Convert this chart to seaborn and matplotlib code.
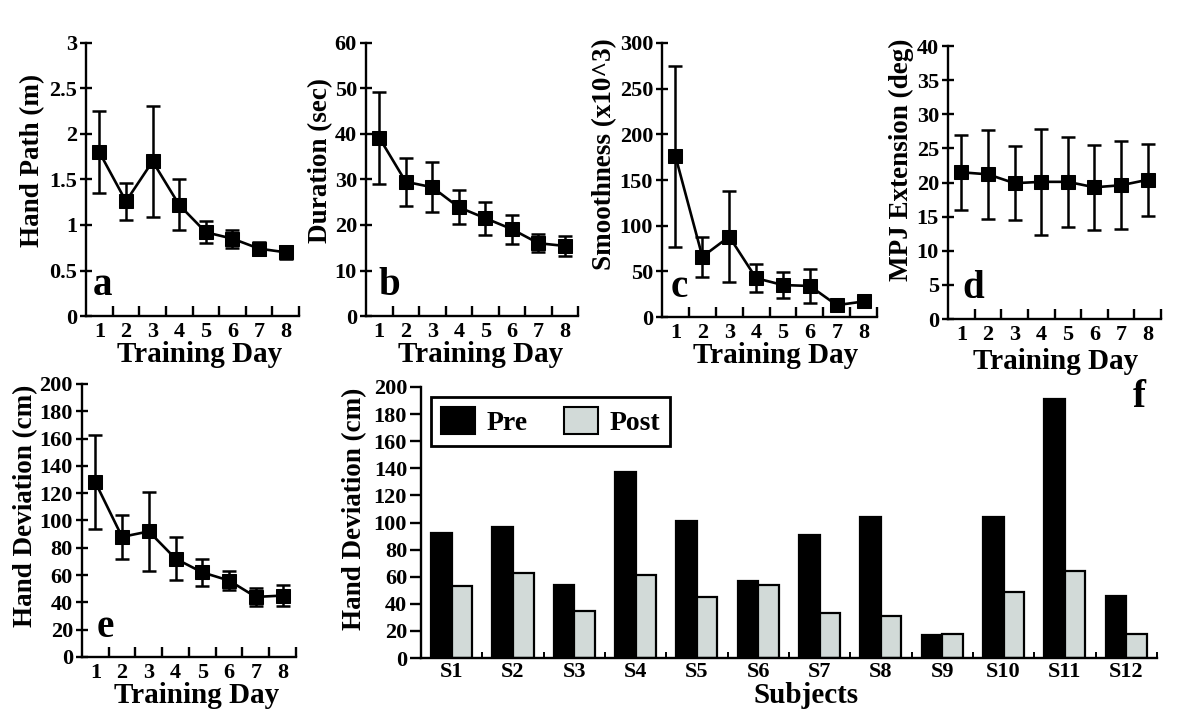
import numpy as np
import pandas as pd
import matplotlib
matplotlib.use('Agg')
import matplotlib.pyplot as plt
import seaborn as sns
from matplotlib.ticker import FormatStrFormatter

# training days (panels a-e)
days = [1, 2, 3, 4, 5, 6, 7, 8]

hand_path = [1.80, 1.26, 1.70, 1.22, 0.92, 0.85, 0.74, 0.70]
hand_path_sd = [0.45, 0.20, 0.61, 0.28, 0.12, 0.10, 0.075, 0.07]

duration = [39.2, 29.5, 28.3, 23.9, 21.5, 19.1, 16.0, 15.4]
duration_sd = [10.1, 5.3, 5.5, 3.7, 3.6, 3.2, 2.0, 2.2]

smoothness = [176, 66, 88, 42.5, 35, 34, 13, 17]
smoothness_sd = [99, 22, 50, 15, 14, 19, 3, 3]

mpj = [21.5, 21.2, 19.9, 20.1, 20.1, 19.3, 19.6, 20.4]
mpj_sd = [5.5, 6.5, 5.45, 7.8, 6.6, 6.25, 6.45, 5.3]

hand_dev = [128, 88, 92, 72, 62, 56, 44, 45]
hand_dev_sd = [34.5, 16, 29, 15.6, 10, 7, 6.5, 7.8]

# panel f
subjects = ['S1', 'S2', 'S3', 'S4', 'S5', 'S6', 'S7', 'S8', 'S9', 'S10', 'S11', 'S12']
pre = [92, 97, 54, 137, 101, 57, 91, 104, 17, 104, 191, 46]
post = [53, 63, 35, 61, 45, 54, 33, 31, 18, 49, 64, 18]

sns.set_style('ticks')
plt.rcParams['font.family'] = ['Liberation Serif', 'DejaVu Serif']
plt.rcParams['font.weight'] = 'bold'
plt.rcParams['axes.labelweight'] = 'bold'
plt.rcParams['axes.linewidth'] = 1.7
for key in ['text.color', 'axes.labelcolor', 'xtick.color', 'ytick.color', 'axes.edgecolor']:
    plt.rcParams[key] = 'black'

fig = plt.figure(figsize=(12, 7.2), dpi=100)


def day_panel(rect, mean, sd, ymax, ystep, ylabel, ylab_xy, letter, letter_xy, xlab_xy):
    ax = fig.add_axes(rect)
    ax.errorbar(days, mean, yerr=sd, fmt='none', ecolor='black',
                elinewidth=1.8, capsize=5, capthick=1.8, zorder=2)
    df = pd.DataFrame({'day': days, 'value': mean})
    sns.lineplot(data=df, x='day', y='value', ax=ax, color='black', linewidth=1.9,
                 marker='s', markersize=9.5, markeredgecolor='black', zorder=3)
    ax.set_xlim(0.5, 8.5)
    ax.set_ylim(0, ymax)
    ax.set_yticks(np.arange(0, ymax + ystep / 2, ystep))
    ax.yaxis.set_major_formatter(FormatStrFormatter('%g'))
    ax.set_xticks(days)
    ax.set_xticks(np.arange(1.5, 9, 1), minor=True)
    ax.tick_params(axis='x', which='major', length=0, pad=4, labelsize=16)
    ax.tick_params(axis='x', which='minor', direction='in', length=7, width=1.7)
    ax.tick_params(axis='y', direction='inout', length=9, width=1.7, pad=2, labelsize=16)
    sns.despine(ax=ax)
    ax.set_ylabel(ylabel, fontsize=19.5)
    ax.yaxis.label.set_va('center')
    ax.yaxis.set_label_coords(*ylab_xy)
    ax.set_xlabel('Training Day', fontsize=21)
    ax.xaxis.label.set_va('baseline')
    ax.xaxis.set_label_coords(*xlab_xy)
    ax.text(letter_xy[0], letter_xy[1], letter, transform=ax.transAxes,
            fontsize=28, fontweight='bold', va='baseline', ha='left')
    return ax


day_panel([0.0717, 0.5611, 0.1775, 0.3792], hand_path, hand_path_sd, 3, 0.5,
          'Hand Path (m)', (-0.25, 0.571), 'a', (0.033, 0.077), (0.535, -0.168))
day_panel([0.305, 0.5611, 0.1767, 0.3792], duration, duration_sd, 60, 10,
          'Duration (sec)', (-0.215, 0.571), 'b', (0.057, 0.077), (0.54, -0.168))
day_panel([0.5517, 0.5597, 0.1792, 0.3806], smoothness, smoothness_sd, 300, 50,
          'Smoothness (x10^3)', (-0.265, 0.595), 'c', (0.042, 0.073), (0.53, -0.168))
day_panel([0.79, 0.5569, 0.1775, 0.3792], mpj, mpj_sd, 40, 5,
          'MPJ Extension (deg)', (-0.22, 0.582), 'd', (0.066, 0.077), (0.507, -0.183))
day_panel([0.0683, 0.0875, 0.1783, 0.3792], hand_dev, hand_dev_sd, 200, 20,
          'Hand Deviation (cm)', (-0.265, 0.553), 'e', (0.07, 0.073), (0.537, -0.168))

# panel f - pre/post bars
axf = fig.add_axes([0.3508, 0.0861, 0.6133, 0.3764])
df_f = pd.DataFrame({'Subject': subjects * 2,
                     'Phase': ['Pre'] * len(pre) + ['Post'] * len(post),
                     'value': pre + post})
sns.barplot(data=df_f, x='Subject', y='value', hue='Phase', ax=axf,
            palette=['black', '#d2dad8'], edgecolor='black', linewidth=1.6,
            width=0.67, saturation=1)
axf.set_xlim(-0.5, 11.5)
axf.set_ylim(0, 200)
axf.set_yticks(np.arange(0, 201, 20))
axf.set_xticks(np.arange(0.5, 12, 1), minor=True)
axf.tick_params(axis='x', which='major', length=0, pad=3, labelsize=16)
axf.tick_params(axis='x', which='minor', direction='in', length=4, width=1.4)
axf.tick_params(axis='y', direction='out', length=8, width=1.7, pad=2, labelsize=16)
sns.despine(ax=axf)
axf.set_ylabel('Hand Deviation (cm)', fontsize=19.5)
axf.yaxis.label.set_va('center')
axf.yaxis.set_label_coords(-0.09, 0.55)
axf.set_xlabel('Subjects', fontsize=21)
axf.xaxis.label.set_va('baseline')
axf.xaxis.set_label_coords(0.523, -0.166)
axf.text(0.967, 0.926, 'f', transform=axf.transAxes, fontsize=28,
         fontweight='bold', va='baseline', ha='left')

sns.move_legend(axf, 'upper left', bbox_to_anchor=(0.0136, 0.963), ncol=2, title=None,
                frameon=True, fancybox=False, framealpha=1, fontsize=20,
                handlelength=1.25, handleheight=1.15, handletextpad=0.4,
                columnspacing=1.3, borderpad=0.35, borderaxespad=0)
leg = axf.get_legend()
leg.get_frame().set_edgecolor('black')
leg.get_frame().set_linewidth(2)
for h in leg.legend_handles:
    h.set_edgecolor('black')
    h.set_linewidth(1.5)

plt.savefig('out.png', dpi=100)
